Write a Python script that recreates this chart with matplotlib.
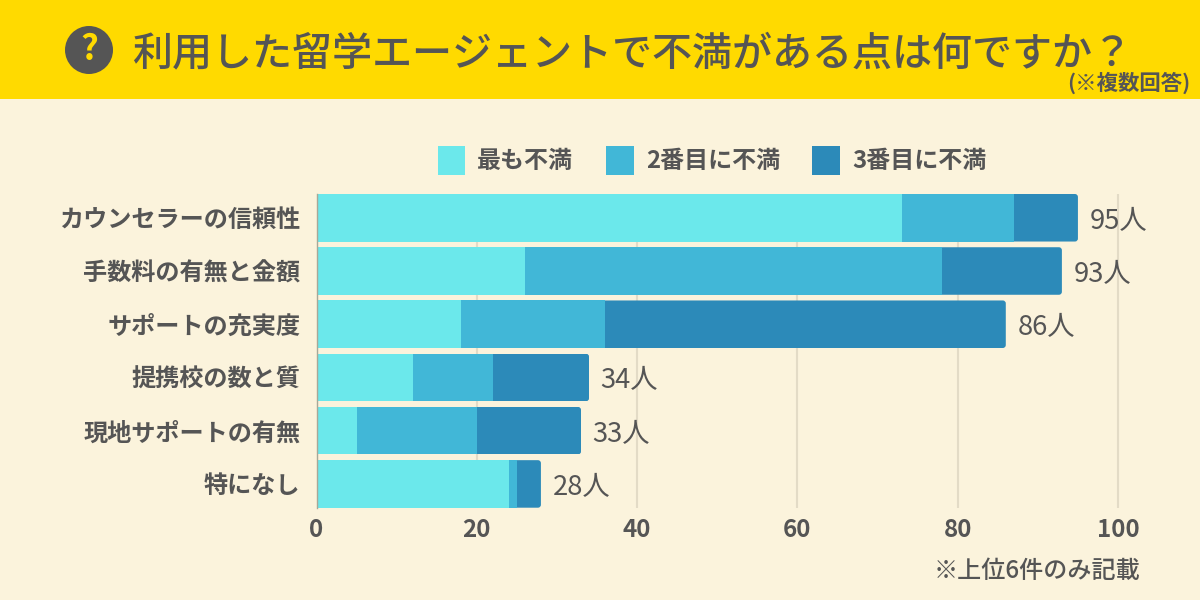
import matplotlib
matplotlib.use('Agg')
import matplotlib.pyplot as plt
from matplotlib.patches import Rectangle, Circle, FancyBboxPatch

plt.rcParams['font.family'] = ['Noto Sans CJK JP', 'DejaVu Sans']

categories = ['カウンセラーの信頼性', '手数料の有無と金額', 'サポートの充実度',
              '提携校の数と質', '現地サポートの有無', '特になし']
first = [73, 26, 18, 12, 5, 24]
second = [14, 52, 18, 10, 15, 1]
third = [8, 15, 50, 12, 13, 3]
totals = [95, 93, 86, 34, 33, 28]
series_names = ['最も不満', '2番目に不満', '3番目に不満']
x_ticks = [0, 20, 40, 60, 80, 100]

TEXT = '#555555'
BG = '#FBF3DC'
YELLOW = '#FFDA00'
COLORS = ['#6BE8EB', '#41B7D7', '#2C8AB9']

W, H = 1200, 600
fig = plt.figure(figsize=(12, 6), dpi=100, facecolor=BG)

# header band and icon, in pixel coordinates
bg = fig.add_axes([0, 0, 1, 1], zorder=0)
bg.set_xlim(0, W)
bg.set_ylim(H, 0)
bg.axis('off')
bg.add_patch(Rectangle((0, 0), W, 99, color=YELLOW, lw=0))
bg.add_patch(Circle((89, 50), 24, color=TEXT, lw=0))
bg.text(89, 50, '?', color=YELLOW, fontsize=25, fontweight='bold', ha='center', va='center')
bg.text(132, 53.5, '利用した留学エージェントで不満がある点は何ですか？', color=TEXT, fontsize=28.85,
        fontweight='medium', ha='left', va='center')
bg.text(1190, 82.5, '(※複数回答)', color=TEXT, fontsize=15.4, fontweight='bold', ha='right', va='center')
bg.text(1140, 571, '※上位6件のみ記載', color=TEXT, fontsize=17.35, fontweight='medium', ha='right', va='center')

ax = fig.add_axes([316.5 / W, 1 - 507.7 / H, (1150 - 316.5) / W, (507.7 - 194) / H], zorder=1)
ax.patch.set_alpha(0)
pad = 0.4465
ax.set_xlim(0, (1150 - 316.5) / 8.015)
ax.set_ylim(5 + pad, -pad)

ypos = list(range(len(categories)))
left = [0] * len(categories)
handles = []
for vals, col, name in zip([first, second, third], COLORS, series_names):
    bars = ax.barh(ypos, vals, left=left, height=2 * pad, color=col, label=name, zorder=2, lw=0)
    handles.append(bars)
    left = [a + b for a, b in zip(left, vals)]

# slightly rounded outer ends on the last segment
for bar in handles[-1]:
    x0, y0 = ax.transData.transform((bar.get_x(), bar.get_y()))
    x1, y1 = ax.transData.transform((bar.get_x() + bar.get_width(), bar.get_y() + bar.get_height()))
    clip = FancyBboxPatch((x0 - 10, min(y0, y1)), x1 - x0 + 10, abs(y1 - y0),
                          boxstyle='round,pad=0,rounding_size=3', transform=None)
    bar.set_clip_path(clip)

for y, t in zip(ypos, totals):
    ax.annotate(f'{t}人', (t, y), xytext=(8.3, -2.5), textcoords='offset points', color=TEXT,
                fontsize=19.7, va='center', ha='left', zorder=3)

ax.set_xticks(x_ticks)
ax.grid(axis='x', color='#E3DBC6', lw=1.5, zorder=0)
ax.set_axisbelow(True)
ax.set_yticks(ypos)
ax.set_yticklabels(categories, fontsize=17.4, fontweight='bold', color=TEXT)
ax.tick_params(axis='y', length=0, pad=11.5)
ax.tick_params(axis='x', length=0, pad=7.5, labelsize=17.4, labelcolor=TEXT)
for lab in ax.get_xticklabels():
    lab.set_fontweight('bold')
for s in ['top', 'right', 'bottom']:
    ax.spines[s].set_visible(False)
ax.spines['left'].set_color('#A8A898')
ax.spines['left'].set_linewidth(1)
ax.spines['left'].set_zorder(4)

leg = ax.legend(loc='center left', bbox_to_anchor=(437.5 / W, 1 - 160.5 / H), bbox_transform=fig.transFigure,
                ncol=3, frameon=False, fontsize=17.3, handlelength=1.16, handleheight=1.52,
                handletextpad=0.5, columnspacing=1.35, borderpad=0, borderaxespad=0)
for t in leg.get_texts():
    t.set_color(TEXT)
    t.set_fontweight('bold')

fig.savefig('out.png', dpi=100, facecolor=BG)
